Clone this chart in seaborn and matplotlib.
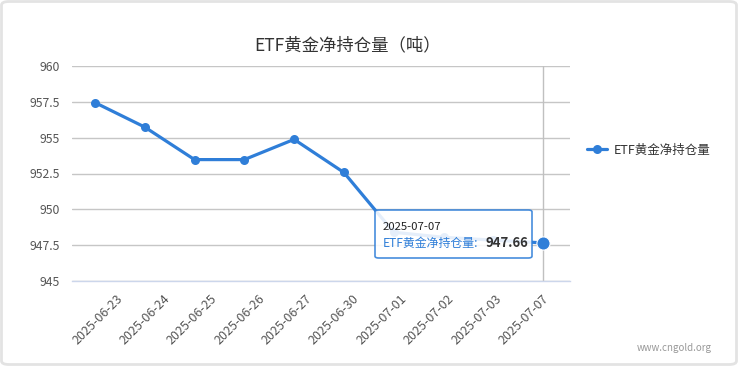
import numpy as np
import pandas as pd
import seaborn as sns
import matplotlib
matplotlib.use("Agg")
import matplotlib.pyplot as plt
from matplotlib.patches import FancyBboxPatch

dates = ["2025-06-23", "2025-06-24", "2025-06-25", "2025-06-26", "2025-06-27",
         "2025-06-30", "2025-07-01", "2025-07-02", "2025-07-03", "2025-07-07"]
holdings = [957.45, 955.74, 953.47, 953.47, 954.88, 952.57, 948.40, 948.05, 947.85, 947.66]
series_name = "ETF黄金净持仓量"
title = "ETF黄金净持仓量（吨）"
y_ticks = [945, 947.5, 950, 952.5, 955, 957.5, 960]

sns.set_theme(style="white")
plt.rcParams['font.family'] = ['Noto Sans CJK SC', 'DejaVu Sans']

W, H = 738, 366
fig = plt.figure(figsize=(W / 100, H / 100), dpi=100)
ax = fig.add_axes([72 / W, 1 - 281 / H, (570 - 72) / W, (281 - 66) / H])

df = pd.DataFrame({"idx": np.arange(len(dates)), "value": holdings, "date": dates})
color = "#2f7ed8"
sns.lineplot(data=df, x="idx", y="value", ax=ax, color=color, lw=2.3,
             marker="o", markersize=6.5, markeredgewidth=0, label=series_name, zorder=3)
# hovered last point
ax.plot([df["idx"].iloc[-1]], [df["value"].iloc[-1]], "o", color=color,
        markersize=9.5, markeredgecolor="white", markeredgewidth=0.8, zorder=4)
ax.axvline(df["idx"].iloc[-1], color="#c0c0c0", lw=1, zorder=1)

ax.set_xlim(-0.46, 9.54)
ax.set_ylim(945, 960)
ax.set_yticks(y_ticks)
ax.set_yticklabels([f"{v:g}" for v in y_ticks], fontsize=8.8, color="#555555")
ax.yaxis.grid(True, color="#c6c6c6", lw=1)
ax.set_axisbelow(True)
tick_pos = np.linspace(0.42, 8.98, len(dates))
ax.set_xticks(tick_pos)
ax.set_xticklabels(dates, rotation=45, ha="right", rotation_mode="anchor",
                   fontsize=9, color="#555555")
ax.tick_params(axis="x", length=5, color="#ccd6eb", width=1, pad=3)
ax.tick_params(axis="y", length=0, pad=9)
ax.set_xlabel("")
ax.set_ylabel("")
for s in ["top", "right", "left"]:
    ax.spines[s].set_visible(False)
ax.spines["bottom"].set_color("#ccd6eb")
ax.spines["bottom"].set_linewidth(1)

# legend
leg = ax.legend(loc="center left", bbox_to_anchor=(576 / W, 1 - 150 / H),
                bbox_transform=fig.transFigure, frameon=False, fontsize=9,
                handlelength=1.6, handletextpad=0.5)
for t in leg.get_texts():
    t.set_color("#333333")

fig.text(348 / W, 1 - 45 / H, title, ha="center", va="center", fontsize=12.5, color="#333333")
fig.text(712 / W, 1 - 348 / H, "www.cngold.org", ha="right", va="center", fontsize=7, color="#999999")

# tooltip
tip = FancyBboxPatch((375 / W, 1 - 258 / H), (532 - 375) / W, (258 - 210) / H,
                     boxstyle="round,pad=0,rounding_size=0.005", transform=fig.transFigure,
                     facecolor="white", edgecolor=color, lw=1.2, alpha=0.88, zorder=10)
fig.patches.append(tip)
fig.text(383 / W, 1 - 227 / H, dates[-1], ha="left", va="center", fontsize=8.2, color="#222222", zorder=11)
fig.text(383 / W, 1 - 243 / H, series_name + ":", ha="left", va="center", fontsize=8.6, color=color, zorder=11)
fig.text(485 / W, 1 - 243 / H, f"{holdings[-1]:.2f}", ha="left", va="center", fontsize=9.5,
         fontweight="bold", color="#333333", zorder=11)

# card border
border = FancyBboxPatch((1.5 / W, 1.5 / H), (W - 3) / W, (H - 3) / H,
                        boxstyle="round,pad=0,rounding_size=0.01", transform=fig.transFigure,
                        facecolor="none", edgecolor="#e3e3e3", lw=2, zorder=0)
fig.patches.append(border)

fig.savefig("out.png", dpi=100)
